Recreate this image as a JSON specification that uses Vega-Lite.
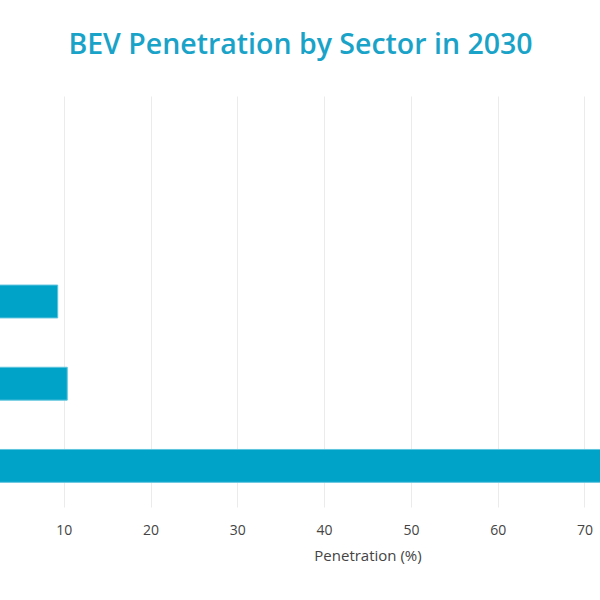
{
  "$schema": "https://vega.github.io/schema/vega-lite/v6.json",
  "autosize": "none",
  "padding": {"left": -23, "top": 96, "right": -158, "bottom": 93},
  "width": 781,
  "height": 411,
  "background": "white",
  "title": {
    "text": "BEV Penetration by Sector in 2030",
    "color": "#1AA3C8",
    "font": "Open Sans",
    "fontSize": 28.5,
    "fontWeight": 600,
    "anchor": "middle",
    "dx": -67,
    "offset": 37
  },
  "data": {
    "values": [
      {"sector": "Heavy-Duty Trucks", "penetration": 0},
      {"sector": "Medium-Duty Trucks", "penetration": 0},
      {"sector": "Buses", "penetration": 9.3},
      {"sector": "Light Commercial Vehicles", "penetration": 10.4},
      {"sector": "Passenger Cars", "penetration": 85}
    ]
  },
  "mark": {"type": "bar", "color": "#00A3C8", "stroke": "#5FC4DE", "strokeWidth": 1},
  "encoding": {
    "y": {
      "field": "sector",
      "type": "nominal",
      "sort": null,
      "scale": {"paddingInner": 0.6, "paddingOuter": 0.3},
      "axis": {"title": null, "domain": false, "ticks": false, "labels": false}
    },
    "x": {
      "field": "penetration",
      "type": "quantitative",
      "scale": {"domain": [0, 90], "nice": false},
      "axis": {
        "title": "Penetration (%)",
        "values": [10, 20, 30, 40, 50, 60, 70],
        "domain": false,
        "ticks": false,
        "grid": true,
        "gridColor": "#EBEBEB",
        "labelFont": "Open Sans",
        "labelFontSize": 14,
        "labelColor": "#444",
        "labelPadding": 16,
        "titleFont": "Open Sans",
        "titleFontSize": 15,
        "titleFontWeight": "normal",
        "titleColor": "#444",
        "titlePadding": 11
      }
    }
  },
  "config": {"view": {"stroke": null}}
}
